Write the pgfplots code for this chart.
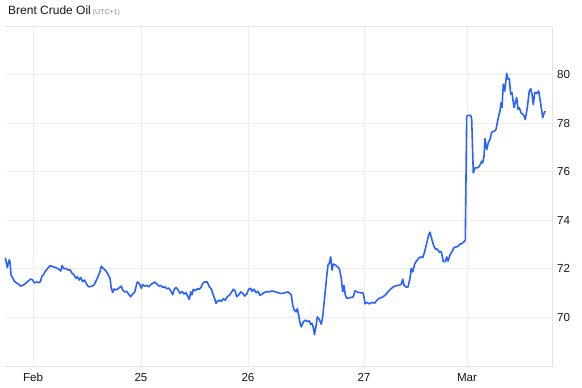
\documentclass[border=0pt]{standalone}
\usepackage{fontspec}
\setmainfont{Liberation Sans}
\usepackage{pgfplots}
\pgfplotsset{compat=1.18}
\definecolor{linec}{HTML}{2962FF}
\definecolor{gridc}{HTML}{EEEEEE}
\definecolor{bordc}{HTML}{E3E5EA}
\definecolor{txt}{HTML}{131722}
\definecolor{subc}{HTML}{8A8D96}
\begin{document}
\begin{tikzpicture}[x=1pt,y=1pt]
\useasboundingbox (0,0) rectangle (582,388);
\node[anchor=base west, inner sep=0pt, font=\fontsize{12}{14}\selectfont, text=txt] at (8,373.5) {Brent Crude Oil\,{\color{subc}\fontsize{7}{8}\selectfont (UTC+1)}};
\begin{axis}[
  at={(5pt,22pt)}, anchor=south west, scale only axis,
  width=547pt, height=340pt,
  xmin=5, xmax=552, ymin=68, ymax=82,
  axis line style={draw=none},
  major tick length=0pt,
  grid=major, major grid style={draw=gridc, line width=0.8pt},
  xtick={33,141,248,364,467}, xticklabels={Feb,25,26,27,Mar},
  ytick={70,72,74,76,78,80},
  yticklabel pos=right,
  /pgf/number format/assume math mode=true,
  ticklabel style={font=\fontsize{11.6}{13}\selectfont, text=txt},
  yticklabel style={anchor=west, inner sep=0pt, xshift=5pt},
  xticklabel style={anchor=base, inner sep=0pt, yshift=-16pt},
  clip=false,
]
\draw[bordc, line width=0.8pt] (rel axis cs:0,1) -- (rel axis cs:1,1) -- (rel axis cs:1,0) -- (rel axis cs:0,0);
\addplot[linec, line width=1.6pt, no marks, line join=round] coordinates {
(5.3,72.46)(7.3,72.05)(8.3,72.24)(9.3,72.37)(10,72.28)(11,71.75)(12.7,71.62)(15,71.46)(18.3,71.38)(20.7,71.29)
(23.3,71.33)(26,71.42)(28.3,71.50)(30.7,71.58)(32.7,71.54)(34.3,71.42)(36.7,71.46)(39.3,71.43)(40.7,71.50)(41.7,71.68)
(43.3,71.75)(45,71.88)(47.3,72.00)(50,72.13)(52.7,72.09)(56,72.05)(59.3,71.97)(60.7,71.91)(62,72.13)(64,72.00)
(66,72.02)(68,71.95)(70,71.97)(72,71.82)(74,71.75)(76,71.61)(77.3,71.68)(79.3,71.54)(80.7,71.64)(82.7,71.47)
(84.7,71.54)(86.7,71.36)(88.7,71.26)(91.3,71.28)(94,71.33)(96,71.50)(98,71.68)(100,71.88)(101.3,72.11)(103.3,72.02)
(106,71.91)(108.3,71.75)(110,71.61)(111.3,71.20)(112.7,71.03)(114,71.17)(116,71.13)(118.7,71.20)(121.3,71.29)(122.7,71.13)
(124.7,71.05)(126.7,71.07)(128.7,70.96)(130.7,70.85)(132.7,70.96)(134.7,71.05)(136,71.26)(137.3,71.46)(139.3,71.40)(141.3,71.20)
(142.7,71.35)(144.7,71.29)(146.7,71.32)(148.7,71.26)(150.7,71.35)(152.7,71.40)(154.7,71.46)(156.7,71.38)(158.7,71.29)(160.7,71.32)
(162.7,71.24)(164.7,71.26)(166.7,71.18)(168.7,71.21)(170.7,71.10)(172.7,70.93)(174,71.13)(176,71.24)(178,71.13)(180,70.99)
(182,71.07)(184,70.96)(186,71.02)(188,70.85)(189.3,70.74)(190.7,71.05)(192,70.93)(193.3,71.16)(195.3,71.10)(197.3,71.18)
(199.3,71.16)(201.3,71.26)(202.7,71.40)(204.7,71.46)(207.3,71.46)(209.3,71.26)(211.3,71.18)(212.7,70.99)(214.7,70.77)(216,70.58)
(217.3,70.66)(219.3,70.71)(221.3,70.66)(223.3,70.77)(225.3,70.71)(227.3,70.85)(229.3,70.91)(231.3,71.02)(233.3,71.16)(235.3,71.07)
(236.7,70.85)(238.7,70.93)(240.7,71.05)(242.7,70.99)(244.7,70.88)(246.7,70.96)(248.7,71.16)(250.7,71.20)(252,71.07)(254,71.16)
(256,71.02)(258,71.07)(260,70.91)(262,70.96)(264,71.02)(266.7,71.06)(269.3,71.05)(272,71.09)(274.7,71.06)(277.3,71.03)
(280,70.99)(282.7,70.99)(285.3,71.02)(288,71.05)(290,70.99)(291.3,70.92)(292.7,70.51)(294,70.33)(296,70.23)(297.3,70.36)
(298.7,70.09)(300,69.78)(301.3,69.61)(303.3,69.81)(305.3,69.89)(307.3,69.83)(309.3,69.86)(310.7,69.72)(312,69.75)(313.3,69.59)
(314.5,69.29)(316,69.64)(317.3,70.02)(319.3,69.92)(321.3,69.72)(322.7,70.02)(324.7,70.85)(326.7,71.68)(328,72.16)(329.3,72.23)
(330.7,72.49)(332,71.95)(333.3,72.20)(335.3,72.16)(337.3,72.09)(339.3,72.02)(341.3,71.61)(342.7,71.06)(344,71.31)(345.3,70.92)
(346.7,70.79)(350,70.81)(353.3,70.85)(355,71.09)(358.3,71.03)(363.3,71.00)(365,70.56)(366.7,70.62)(369.3,70.56)(372,70.62)
(374.7,70.59)(376.7,70.70)(379.3,70.79)(382.7,70.84)(385.3,70.92)(388,71.06)(390.7,71.17)(393.3,71.26)(396.7,71.31)(399.3,71.33)
(401.3,71.36)(402.7,71.58)(404,71.33)(406,71.25)(408,71.25)(410,71.61)(411.3,72.02)(412.7,71.88)(414.7,72.21)(416.7,72.33)
(418.7,72.44)(420.7,72.49)(422.7,72.46)(424.7,72.71)(426.7,73.06)(428.7,73.40)(430,73.51)(432,73.19)(434,72.92)(436,72.79)
(437.3,72.82)(439.3,72.69)(441.3,72.71)(443.3,72.30)(445.3,72.30)(446.7,72.49)(448,72.32)(450,72.57)(452,72.71)(454,72.88)
(456,72.90)(458,72.93)(460,73.02)(462,73.04)(464,73.12)(465.3,73.19)(466.7,78.29)(468.3,78.32)(470.7,78.32)(471.7,78.15)
(473.3,75.95)(475,76.16)(477.3,76.16)(479.3,76.22)(481.7,76.43)(482.7,76.36)(484,76.64)(485,77.36)(486.7,76.91)(488.3,77.19)
(490,77.33)(491.7,77.63)(494.3,77.67)(496,77.74)(497.3,78.02)(498.7,78.29)(500,78.50)(501,78.84)(502,78.64)(503.3,79.60)
(504.7,79.32)(506.7,80.05)(508,79.81)(509.3,79.83)(510.7,79.19)(512,79.26)(514,78.64)(515.3,78.84)(516.7,79.05)(518,78.57)
(519.3,78.64)(521.3,78.40)(523.3,78.36)(525.3,78.15)(527.3,78.64)(529.3,79.32)(530.7,79.42)(532,79.19)(533.3,78.77)(534.7,79.26)
(536.7,79.23)(538.7,79.32)(540,78.98)(542,78.45)(542.7,78.22)(544,78.40)(545.3,78.50)
};
\end{axis}
\end{tikzpicture}
\end{document}
